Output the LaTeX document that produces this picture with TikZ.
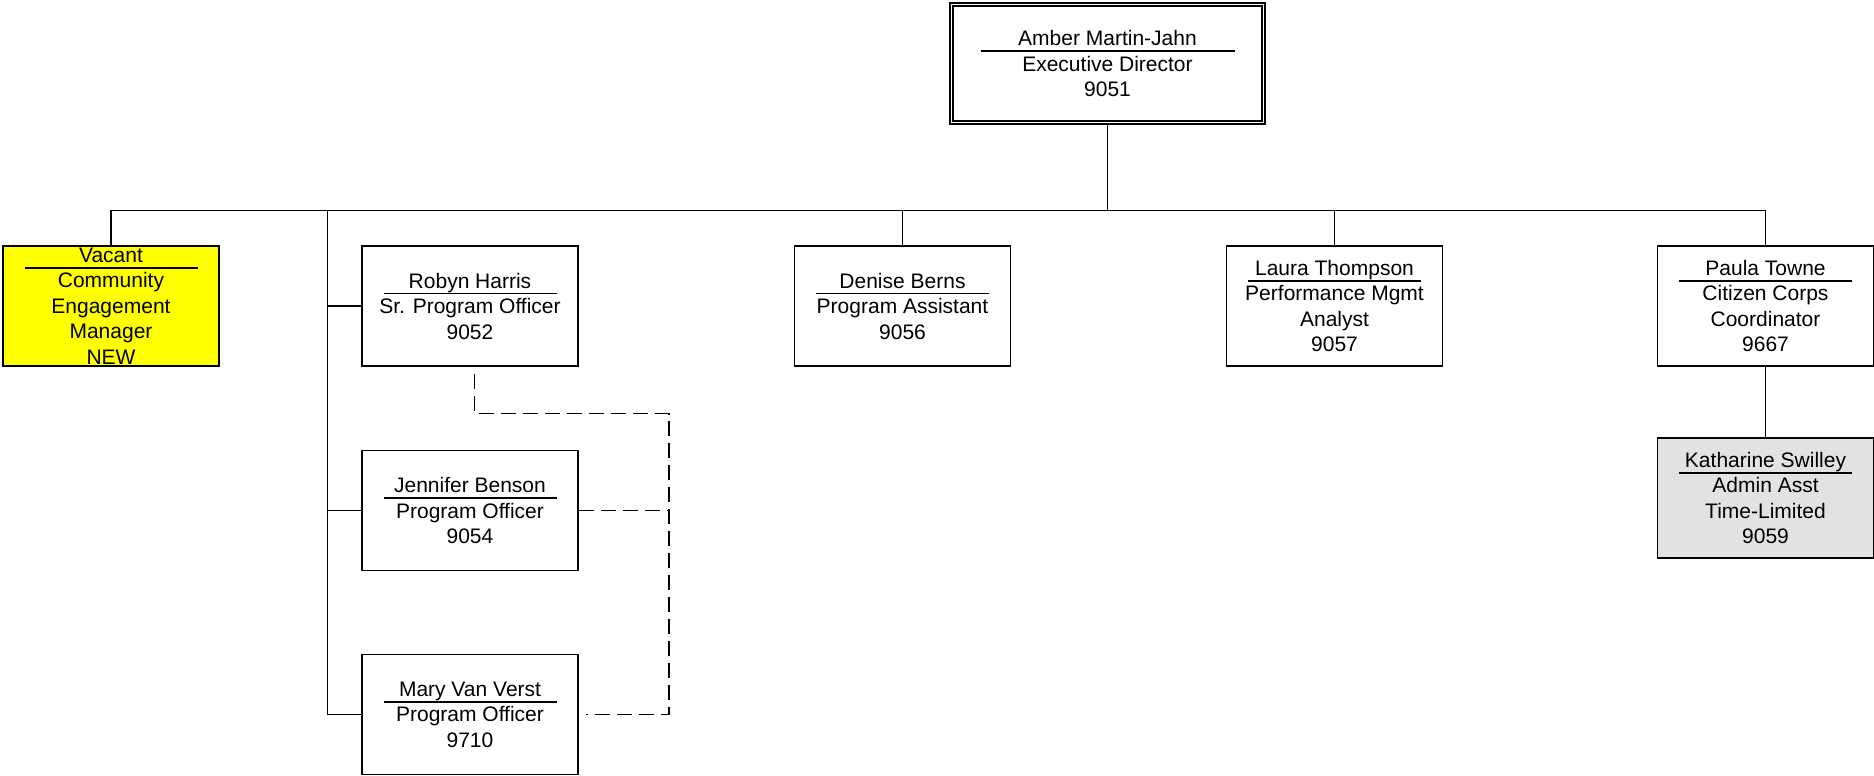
\documentclass[tikz,border=0pt]{standalone}
\usepackage{fontspec}
\setmainfont{Liberation Sans}
\usetikzlibrary{calc}
\definecolor{vacant}{HTML}{FFFF00}
\definecolor{tlgray}{HTML}{E2E2E2}
\begin{document}
\begin{tikzpicture}[x=0.5pt,y=-0.5pt,
  box/.style={draw, line width=0.9pt, minimum width=108pt, minimum height=60pt, inner sep=0pt, align=center, font=\fontsize{10.5pt}{12.75pt}\selectfont},
  topbox/.style={box, double, double distance=0.8pt, minimum width=155.9pt, minimum height=58.9pt},
  link/.style={line width=0.9pt},
  dashlink/.style={line width=0.9pt, dash pattern=on 7.5pt off 3.5pt},
  uline/.style={line width=0.75pt}]
\fill[white] (0,0) rectangle (1874,776);
\useasboundingbox (0,0) rectangle (1874,776);

\node[topbox] (ed) at (1107.5,63.5) {Amber Martin-Jahn\\Executive Director\\9051};
\node[box, fill=vacant] (vac) at (111,306) {Vacant\\Community\\Engagement\\Manager\\NEW};
\node[box] (rh) at (470,306) {Robyn Harris\\Sr. Program Officer\\9052};
\node[box] (jb) at (470,510.5) {Jennifer Benson\\Program Officer\\9054};
\node[box] (mv) at (470,714.5) {Mary Van Verst\\Program Officer\\9710};
\node[box] (db) at (902.5,306) {Denise Berns\\Program Assistant\\9056};
\node[box] (lt) at (1334.5,306) {Laura Thompson\\Performance Mgmt\\Analyst\\9057};
\node[box] (pt) at (1765.5,306) {Paula Towne\\Citizen Corps\\Coordinator\\9667};
\node[box, fill=tlgray] (ks) at (1765.5,498) {Katharine Swilley\\Admin Asst\\Time-Limited\\9059};

\coordinate (bus) at (1107.5,210.5);
\coordinate (trunk) at (327.5,210.5);
\coordinate (dj) at (669,413.5);

\draw[link] (ed.south) -- (bus);
\draw[link] (vac.north) |- (bus) -| (pt.north);
\draw[link] (trunk) |- (mv.west);
\draw[link] (trunk |- rh.west) -- (rh.west);
\draw[link] (trunk |- jb.west) -- (jb.west);
\draw[link] (db.north) -- (db.north |- bus);
\draw[link] (lt.north) -- (lt.north |- bus);
\draw[link] (pt.south) -- (ks.north);

\draw[dashlink] ($(rh.south)+(4.5,7)$) |- (dj) |- ($(mv.east)+(7,0)$);
\draw[dashlink] (jb.east) -- (jb.east -| dj);

\foreach \n/\o in {rh/-12.5, jb/-12.5, mv/-12.5, db/-12.5, lt/-25.25, pt/-25.25, ks/-25.25, vac/-38}
  \draw[uline] ($(\n.center)+(-86.5,\o)$) -- ($(\n.center)+(86.5,\o)$);
\draw[uline] ($(ed.center)+(-127,-12.5)$) -- ($(ed.center)+(127,-12.5)$);
\end{tikzpicture}
\end{document}
